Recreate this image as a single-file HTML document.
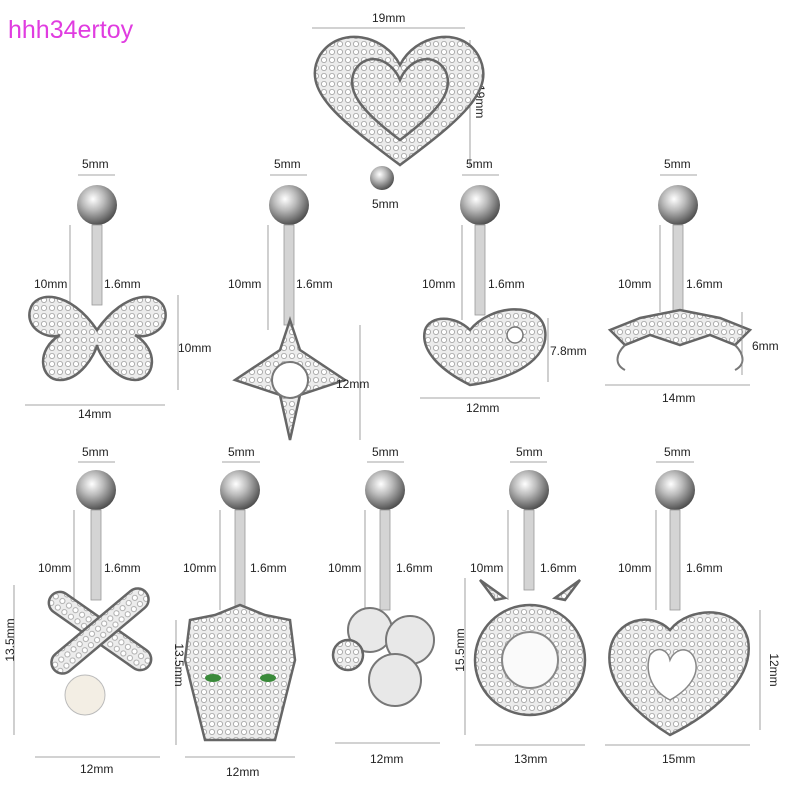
<!DOCTYPE html>
<html><head><meta charset="utf-8"><style>
html,body{margin:0;padding:0;background:#fff;width:800px;height:800px;overflow:hidden}
svg{display:block}
text{font-family:"Liberation Sans",sans-serif;font-size:12px;fill:#222}
.wm{font-size:25px;fill:#e03ce0}
.d{stroke:#888;stroke-width:0.8;fill:none}
.bar{fill:#d4d4d4;stroke:#999;stroke-width:0.8}
.ch{fill:url(#gem);stroke:#666;stroke-width:2.5}
</style></head><body>
<svg width="800" height="800" viewBox="0 0 800 800" xmlns="http://www.w3.org/2000/svg">
<defs>
<radialGradient id="b" cx="0.4" cy="0.35" r="0.7">
<stop offset="0" stop-color="#fff"/><stop offset="0.4" stop-color="#bbb"/><stop offset="1" stop-color="#444"/>
</radialGradient>
<pattern id="gem" width="8" height="8" patternUnits="userSpaceOnUse">
<rect width="8" height="8" fill="#ececec"/><circle cx="4" cy="4" r="2.6" fill="#fff" stroke="#a0a0a0" stroke-width="0.8"/>
</pattern>
</defs>
<text class="wm" x="8" y="38">hhh34ertoy</text>

<!-- top heart -->
<line class="d" x1="312" y1="28" x2="465" y2="28"/>
<text x="372" y="22">19mm</text>
<line class="d" x1="470" y1="40" x2="470" y2="168"/>
<text x="476" y="85" transform="rotate(90 476 85)">19mm</text>
<path class="ch" d="M400 165 C340 120 300 90 320 55 C340 25 385 35 400 65 C415 35 460 25 478 55 C498 90 460 120 400 165Z"/>
<path class="ch" d="M400 140 C360 110 345 90 355 70 C368 50 392 60 400 80 C408 60 432 50 445 70 C455 90 440 110 400 140Z"/>
<circle cx="382" cy="178" r="12" fill="url(#b)"/>
<text x="372" y="208">5mm</text>

<!-- piece 1 butterfly -->
<line class="d" x1="78" y1="175" x2="115" y2="175"/><text x="82" y="168">5mm</text>
<line class="d" x1="70" y1="225" x2="70" y2="330"/>
<circle cx="97" cy="205" r="20" fill="url(#b)"/>
<rect class="bar" x="92" y="225" width="10" height="80"/>
<text x="34" y="288">10mm</text><text x="104" y="288">1.6mm</text>
<path class="ch" d="M97 330 C70 290 35 290 30 310 C25 330 50 340 60 335 C35 350 40 380 60 380 C80 380 95 355 97 345 C99 355 115 380 135 380 C155 380 160 350 135 335 C145 340 170 330 165 310 C160 290 125 290 97 330Z"/>
<line class="d" x1="178" y1="295" x2="178" y2="390"/><text x="178" y="352">10mm</text>
<line class="d" x1="25" y1="405" x2="165" y2="405"/><text x="78" y="418">14mm</text>

<!-- piece 2 star -->
<line class="d" x1="270" y1="175" x2="307" y2="175"/><text x="274" y="168">5mm</text>
<line class="d" x1="268" y1="225" x2="268" y2="330"/>
<circle cx="289" cy="205" r="20" fill="url(#b)"/>
<rect class="bar" x="284" y="225" width="10" height="100"/>
<text x="228" y="288">10mm</text><text x="296" y="288">1.6mm</text>
<path class="ch" d="M290 320 L300 350 L345 380 L300 395 L290 440 L280 395 L235 380 L280 350Z"/>
<circle cx="290" cy="380" r="18" fill="#fff" stroke="#777" stroke-width="2"/>
<line class="d" x1="360" y1="325" x2="360" y2="440"/><text x="336" y="388">12mm</text>

<!-- piece 3 heart -->
<line class="d" x1="462" y1="175" x2="499" y2="175"/><text x="466" y="168">5mm</text>
<line class="d" x1="462" y1="225" x2="462" y2="320"/>
<circle cx="480" cy="205" r="20" fill="url(#b)"/>
<rect class="bar" x="475" y="225" width="10" height="90"/>
<text x="422" y="288">10mm</text><text x="488" y="288">1.6mm</text>
<path class="ch" d="M470 385 C440 370 420 350 425 330 C430 315 455 315 470 330 C490 305 540 300 545 330 C550 360 510 380 470 385Z"/>
<circle cx="515" cy="335" r="8" fill="#fff" stroke="#777" stroke-width="1.5"/>
<line class="d" x1="548" y1="318" x2="548" y2="382"/><text x="550" y="355">7.8mm</text>
<line class="d" x1="420" y1="398" x2="540" y2="398"/><text x="466" y="412">12mm</text>

<!-- piece 4 -->
<line class="d" x1="660" y1="175" x2="697" y2="175"/><text x="664" y="168">5mm</text>
<line class="d" x1="660" y1="225" x2="660" y2="312"/>
<circle cx="678" cy="205" r="20" fill="url(#b)"/>
<rect class="bar" x="673" y="225" width="10" height="90"/>
<text x="618" y="288">10mm</text><text x="686" y="288">1.6mm</text>
<path class="ch" d="M610 330 L640 318 L680 310 L720 318 L750 330 L735 345 L710 335 L680 345 L650 335 L625 345Z"/>
<path d="M625 345 C615 355 615 365 625 370 M735 345 C745 355 745 365 735 370" stroke="#777" stroke-width="2" fill="none"/>
<line class="d" x1="742" y1="312" x2="742" y2="375"/><text x="752" y="350">6mm</text>
<line class="d" x1="605" y1="385" x2="750" y2="385"/><text x="662" y="402">14mm</text>

<!-- row 3 p1 -->
<line class="d" x1="78" y1="462" x2="115" y2="462"/><text x="82" y="456">5mm</text>
<line class="d" x1="74" y1="510" x2="74" y2="600"/>
<circle cx="96" cy="490" r="20" fill="url(#b)"/>
<rect class="bar" x="91" y="510" width="10" height="90"/>
<text x="38" y="572">10mm</text><text x="104" y="572">1.6mm</text>
<rect class="ch" x="40" y="620" width="120" height="22" rx="11" transform="rotate(35 100 631)"/>
<rect class="ch" x="40" y="620" width="120" height="22" rx="11" transform="rotate(-40 100 631)"/>
<circle cx="85" cy="695" r="20" fill="#f3eee4" stroke="#bbb"/>
<line class="d" x1="14" y1="585" x2="14" y2="735"/><text x="14" y="640" transform="rotate(-90 14 640)" text-anchor="middle">13.5mm</text>
<line class="d" x1="35" y1="757" x2="160" y2="757"/><text x="80" y="773">12mm</text>

<!-- p2 panther -->
<line class="d" x1="222" y1="462" x2="260" y2="462"/><text x="228" y="456">5mm</text>
<line class="d" x1="220" y1="510" x2="220" y2="610"/>
<circle cx="240" cy="490" r="20" fill="url(#b)"/>
<rect class="bar" x="235" y="510" width="10" height="100"/>
<text x="183" y="572">10mm</text><text x="250" y="572">1.6mm</text>
<path class="ch" d="M190 620 L215 615 L240 605 L265 615 L290 620 L295 660 L275 740 L205 740 L185 660Z"/>
<ellipse cx="213" cy="678" rx="8" ry="4" fill="#3a8a3a"/><ellipse cx="268" cy="678" rx="8" ry="4" fill="#3a8a3a"/>
<line class="d" x1="176" y1="620" x2="176" y2="745"/><text x="175" y="665" transform="rotate(90 175 665)" text-anchor="middle">13.5mm</text>
<line class="d" x1="185" y1="757" x2="295" y2="757"/><text x="226" y="776">12mm</text>

<!-- p3 clover -->
<line class="d" x1="367" y1="462" x2="404" y2="462"/><text x="372" y="456">5mm</text>
<line class="d" x1="365" y1="510" x2="365" y2="610"/>
<circle cx="385" cy="490" r="20" fill="url(#b)"/>
<rect class="bar" x="380" y="510" width="10" height="100"/>
<text x="328" y="572">10mm</text><text x="396" y="572">1.6mm</text>
<circle cx="370" cy="630" r="22" fill="#e8e8e8" stroke="#777" stroke-width="2"/><circle cx="410" cy="640" r="24" fill="#e8e8e8" stroke="#777" stroke-width="2"/>
<circle cx="395" cy="680" r="26" fill="#e8e8e8" stroke="#777" stroke-width="2"/>
<circle class="ch" cx="348" cy="655" r="15"/>
<line class="d" x1="335" y1="743" x2="440" y2="743"/><text x="370" y="763">12mm</text>

<!-- p4 deer -->
<line class="d" x1="510" y1="462" x2="547" y2="462"/><text x="516" y="456">5mm</text>
<line class="d" x1="508" y1="510" x2="508" y2="600"/>
<circle cx="529" cy="490" r="20" fill="url(#b)"/>
<rect class="bar" x="524" y="510" width="10" height="80"/>
<text x="470" y="572">10mm</text><text x="540" y="572">1.6mm</text>
<path class="ch" d="M480 580 L495 600 L505 598 Z M580 580 L565 600 L555 598Z"/>
<circle class="ch" cx="530" cy="660" r="55"/>
<circle cx="530" cy="660" r="28" fill="#fafafa" stroke="#888" stroke-width="2"/>
<line class="d" x1="465" y1="578" x2="465" y2="735"/><text x="464" y="650" transform="rotate(-90 464 650)" text-anchor="middle">15.5mm</text>
<line class="d" x1="475" y1="745" x2="585" y2="745"/><text x="514" y="763">13mm</text>

<!-- p5 heart -->
<line class="d" x1="656" y1="462" x2="694" y2="462"/><text x="664" y="456">5mm</text>
<line class="d" x1="656" y1="510" x2="656" y2="610"/>
<circle cx="675" cy="490" r="20" fill="url(#b)"/>
<rect class="bar" x="670" y="510" width="10" height="100"/>
<text x="618" y="572">10mm</text><text x="686" y="572">1.6mm</text>
<path class="ch" d="M670 735 C630 710 605 680 610 650 C615 620 650 610 670 630 C690 605 740 605 748 640 C755 680 710 715 670 735Z"/>
<path d="M670 700 C650 690 645 670 650 655 C658 645 668 650 670 660 C675 648 690 645 695 660 C700 675 688 690 670 700Z" fill="#fff" stroke="#888" stroke-width="1.5"/>
<line class="d" x1="760" y1="610" x2="760" y2="730"/><text x="770" y="670" transform="rotate(90 770 670)" text-anchor="middle">12mm</text>
<line class="d" x1="605" y1="745" x2="750" y2="745"/><text x="662" y="763">15mm</text>
</svg>
</body></html>
